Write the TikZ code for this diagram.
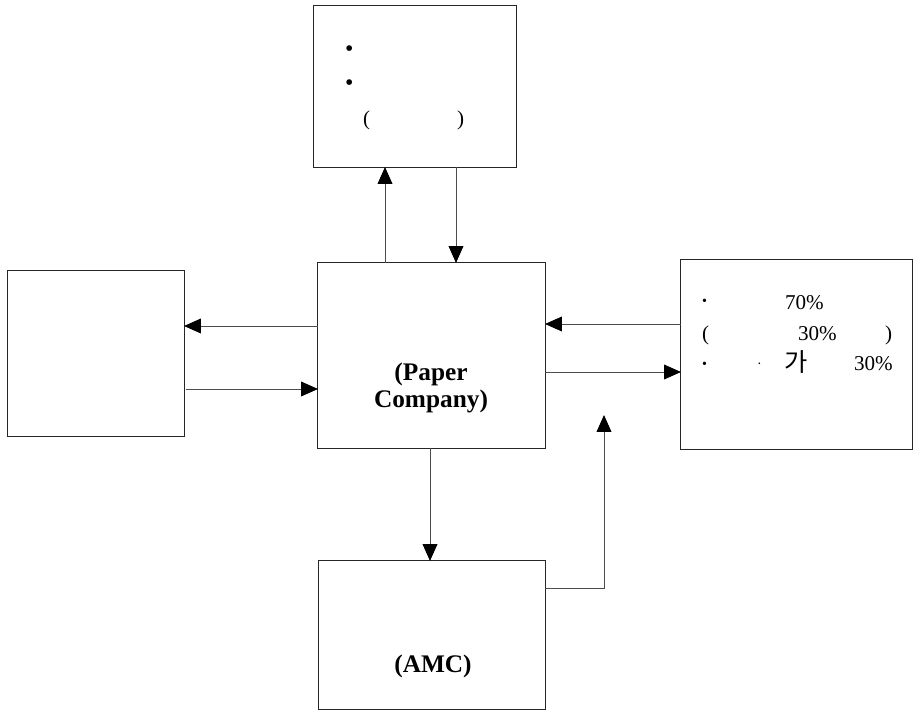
\documentclass[tikz,border=0pt]{standalone}
\usepackage{fontspec}
\setmainfont{Liberation Serif}
\newfontfamily\krfont{Noto Sans CJK KR}
\usetikzlibrary{arrows.meta}
\begin{document}
\begin{tikzpicture}[x=0.025cm,y=-0.025cm]
\tikzstyle{every node}+=[inner sep=0pt,outer sep=0pt]
\tikzset{
  blockbox/.style={draw=black!85,line width=0.7pt,rectangle},
  arr/.style={draw=black!70,line width=0.7pt,-{Triangle[length=12pt,width=10.5pt,color=black]}},
  txt/.style={font=\fontsize{15}{18}\selectfont,anchor=base west},
  boldtxt/.style={font=\fontsize{18}{21}\selectfont\bfseries,anchor=base}
}
\useasboundingbox (0,0) rectangle (914,714);
% boxes
\node [blockbox,minimum width=5.05cm,minimum height=4.025cm] (govt) at (415,86.5) {};
\node [blockbox,minimum width=5.675cm,minimum height=4.625cm] (paper) at (431.5,355.5) {};
\node [blockbox,minimum width=4.4cm,minimum height=4.125cm] (bank) at (96,353.5) {};
\node [blockbox,minimum width=5.775cm,minimum height=4.725cm] (market) at (796.5,354.5) {};
\node [blockbox,minimum width=5.65cm,minimum height=3.7cm] (amc) at (432,635) {};
% texts
\node [txt,font=\fontsize{17}{18}\selectfont] (govtA) at (345,57) {\textbullet};
\node [txt,font=\fontsize{17}{18}\selectfont] (govtB) at (345,91) {\textbullet};
\node [txt] (govtC) at (363,126) {(};
\node [txt] (govtD) at (457,126) {)};
\node [boldtxt] (paperA) at (431,381) {(Paper};
\node [boldtxt] (paperB) at (431,408) {Company)};
\node [boldtxt] (amcA) at (433,672) {(AMC)};
\node [txt,font=\fontsize{10}{12}\selectfont] (mkA) at (702,306) {\textbullet};
\node [txt] (mkB) at (785,310) {70\%};
\node [txt] (mkC) at (702,341) {(};
\node [txt] (mkD) at (798,341) {30\%};
\node [txt] (mkE) at (885,341) {)};
\node [txt,font=\fontsize{10}{12}\selectfont] (mkF) at (702,369) {\textbullet};
\node [txt,font=\fontsize{10}{12}\selectfont] (mkG) at (757,369) {·};
\node [txt,font=\fontsize{18}{20}\krfont] (mkH) at (784,372) {가};
\node [txt] (mkI) at (854,371) {30\%};
% connectors
\draw [arr] (paper.north -| 385,0) -- (govt.south -| 385,0);
\draw [arr] (govt.south -| 456,0) -- (paper.north -| 456,0);
\draw [arr] (paper.west |- 0,326) -- (bank.east |- 0,326);
\draw [arr] ([xshift=0.05cm]bank.east |- 0,389) -- (paper.west |- 0,389);
\draw [arr] (market.west |- 0,324) -- (paper.east |- 0,324);
\draw [arr] (paper.east |- 0,372) -- (market.west |- 0,372);
\draw [arr] (paper.south -| 430,0) -- (amc.north -| 430,0);
\coordinate (upend) at (604,415);
\draw [arr] (amc.east |- 0,588) -| (upend);
\end{tikzpicture}
\end{document}
